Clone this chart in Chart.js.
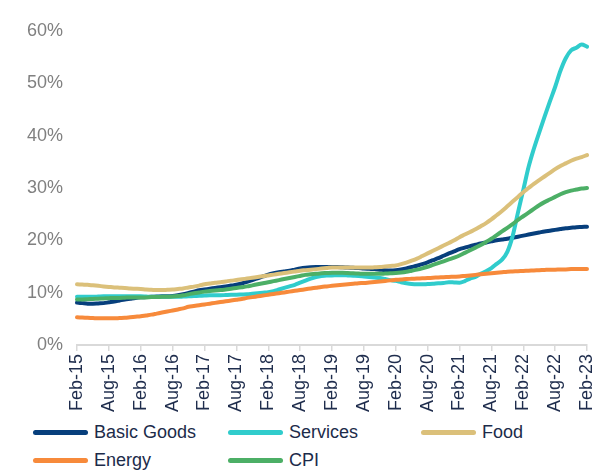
<!DOCTYPE html>
<html>
<head>
<meta charset="utf-8">
<script src="https://cdn.jsdelivr.net/npm/chart.js@4"></script>
<style>
  body { margin: 0; background: #fff; }
  #wrap { position: relative; width: 600px; height: 472px; font-family: "Liberation Sans", Arial, sans-serif; }
  #legend .item { position: absolute; height: 22px; display: flex; align-items: center; font-size: 18px; color: #1c2b4a; white-space: nowrap; }
  #legend .swatch { width: 55px; height: 5px; border-radius: 3px; margin-right: 6px; }
</style>
</head>
<body>
<div id="wrap">
  <canvas id="myChart" width="600" height="420"></canvas>
  <div id="legend"></div>
</div>
<script>
var monthNames = ['Jan', 'Feb', 'Mar', 'Apr', 'May', 'Jun', 'Jul', 'Aug', 'Sep', 'Oct', 'Nov', 'Dec'];
var labels = [];
for (var i = 0; i <= 96; i++) {
    labels.push(monthNames[(1 + i) % 12] + '-' + (15 + Math.floor((1 + i) / 12)));
}

// monthly values, Feb-15 .. Feb-23 (%)
var basicGoods = [
    8.1, 8.0, 7.9, 7.9, 7.95, 8.0, 8.15, 8.3, 8.5, 8.7, 8.85, 9.0,
    9.1, 9.15, 9.2, 9.25, 9.3, 9.3, 9.35, 9.5, 9.7, 9.95, 10.2, 10.45,
    10.6, 10.75, 10.9, 11.05, 11.2, 11.35, 11.5, 11.75, 12.05, 12.4, 12.75, 13.1,
    13.45, 13.7, 13.9, 14.05, 14.2, 14.4, 14.6, 14.75, 14.85, 14.9, 14.9, 14.9,
    14.9, 14.9, 14.85, 14.8, 14.75, 14.7, 14.6, 14.55, 14.5, 14.4, 14.3, 14.25,
    14.3, 14.45, 14.65, 14.9, 15.15, 15.45, 15.8, 16.2, 16.6, 17.05, 17.5, 17.9,
    18.3, 18.6, 18.9, 19.15, 19.4, 19.6, 19.8, 20.0, 20.15, 20.3, 20.5, 20.7,
    20.9, 21.1, 21.3, 21.5, 21.7, 21.85, 22.0, 22.15, 22.3, 22.4, 22.5, 22.55,
    22.6
];
var services = [
    9.2, 9.2, 9.2, 9.2, 9.25, 9.3, 9.3, 9.3, 9.3, 9.3, 9.3, 9.3,
    9.3, 9.25, 9.2, 9.2, 9.2, 9.2, 9.2, 9.2, 9.25, 9.3, 9.35, 9.4,
    9.45, 9.5, 9.5, 9.5, 9.55, 9.6, 9.6, 9.65, 9.7, 9.8, 9.9, 10.0,
    10.1, 10.3, 10.6, 10.9, 11.2, 11.5, 11.9, 12.3, 12.7, 13.0, 13.2, 13.3,
    13.3, 13.35, 13.35, 13.3, 13.25, 13.2, 13.1, 13.0, 12.9, 12.8, 12.6, 12.4,
    12.25, 12.0, 11.8, 11.65, 11.6, 11.6, 11.65, 11.7, 11.8, 11.85, 12.0, 11.95,
    11.9, 12.2, 12.7, 13.0, 13.6, 14.1, 14.7, 15.5, 16.3, 17.8, 20.8, 25.3,
    29.6, 34.0, 37.5, 40.6, 43.6, 46.5, 49.3, 52.4, 54.8, 56.3, 56.8, 57.4,
    57.0
];
var food = [
    11.6, 11.55, 11.5, 11.4, 11.3, 11.2, 11.1, 11.0, 10.95, 10.9, 10.8, 10.75,
    10.7, 10.6, 10.55, 10.5, 10.5, 10.55, 10.6, 10.7, 10.8, 11.0, 11.15, 11.35,
    11.6, 11.75, 11.9, 12.0, 12.15, 12.3, 12.4, 12.55, 12.7, 12.85, 13.0, 13.15,
    13.3, 13.45, 13.6, 13.75, 13.9, 14.05, 14.2, 14.3, 14.4, 14.5, 14.6, 14.7,
    14.8, 14.8, 14.8, 14.8, 14.8, 14.8, 14.8, 14.8, 14.85, 14.9, 15.0, 15.1,
    15.2, 15.45, 15.75, 16.1, 16.5, 17.0, 17.5, 18.0, 18.5, 19.0, 19.5, 20.0,
    20.6, 21.1, 21.6, 22.1, 22.7, 23.3, 24.0, 24.8, 25.6, 26.5, 27.4, 28.3,
    29.2, 30.0, 30.8, 31.5, 32.2, 32.9, 33.6, 34.2, 34.7, 35.2, 35.6, 35.9,
    36.3
];
var energy = [
    5.3, 5.25, 5.2, 5.15, 5.1, 5.1, 5.1, 5.1, 5.15, 5.2, 5.3, 5.4,
    5.5, 5.65, 5.8, 6.0, 6.2, 6.4, 6.6, 6.8, 7.0, 7.3, 7.45, 7.6,
    7.75, 7.9, 8.05, 8.2, 8.35, 8.5, 8.65, 8.8, 9.0, 9.15, 9.3, 9.45,
    9.6, 9.75, 9.9, 10.05, 10.2, 10.35, 10.5, 10.65, 10.8, 10.95, 11.1, 11.2,
    11.3, 11.4, 11.5, 11.6, 11.7, 11.8, 11.85, 11.95, 12.05, 12.15, 12.25, 12.35,
    12.45, 12.5, 12.6, 12.65, 12.7, 12.75, 12.8, 12.85, 12.9, 12.95, 13.0, 13.05,
    13.1, 13.2, 13.3, 13.4, 13.5, 13.6, 13.7, 13.8, 13.9, 14.0, 14.05, 14.1,
    14.15, 14.2, 14.25, 14.3, 14.35, 14.4, 14.4, 14.45, 14.45, 14.5, 14.5, 14.5,
    14.5
];
var cpi = [
    8.7, 8.7, 8.75, 8.8, 8.85, 8.9, 8.95, 9.0, 9.0, 9.05, 9.1, 9.1,
    9.1, 9.1, 9.15, 9.15, 9.2, 9.2, 9.25, 9.35, 9.5, 9.7, 9.9, 10.05,
    10.2, 10.3, 10.4, 10.5, 10.6, 10.75, 10.9, 11.05, 11.2, 11.4, 11.6, 11.8,
    12.0, 12.2, 12.4, 12.6, 12.8, 13.0, 13.2, 13.4, 13.5, 13.6, 13.7, 13.75,
    13.8, 13.8, 13.8, 13.75, 13.7, 13.65, 13.6, 13.6, 13.6, 13.6, 13.65, 13.7,
    13.75, 13.85, 14.0, 14.2, 14.4, 14.65, 14.95, 15.3, 15.65, 16.0, 16.35, 16.7,
    17.1, 17.6, 18.1, 18.6, 19.1, 19.7, 20.3, 21.0, 21.7, 22.4, 23.1, 23.9,
    24.6, 25.3, 26.0, 26.7, 27.3, 27.8, 28.3, 28.8, 29.2, 29.5, 29.7, 29.9,
    30.0
];

var datasets = [
    { label: 'Basic Goods', data: basicGoods, borderColor: '#073f7c', order: 4 },
    { label: 'Services', data: services, borderColor: '#30cccc', order: 3 },
    { label: 'Food', data: food, borderColor: '#dbc07a', order: 2 },
    { label: 'Energy', data: energy, borderColor: '#f78a3b', order: 1 },
    { label: 'CPI', data: cpi, borderColor: '#4caf66', order: 0 }
];
datasets.forEach(function (d) {
    d.borderWidth = 4;
    d.pointRadius = 0;
    d.fill = false;
    d.cubicInterpolationMode = 'monotone';
    d.borderCapStyle = 'round';
    d.borderJoinStyle = 'round';
});

var ctx = document.getElementById('myChart').getContext('2d');
var myChart = new Chart(ctx, {
    type: 'line',
    data: { labels: labels, datasets: datasets },
    options: {
        responsive: false,
        animation: false,
        layout: { padding: { top: 31, right: 13, left: 0, bottom: 0 } },
        plugins: { legend: { display: false }, tooltip: { enabled: false } },
        scales: {
            x: {
                afterFit: function (scale) {
                    scale.height = 75;
                    scale.paddingLeft = 0;
                    scale.paddingRight = 0;
                },
                grid: { drawOnChartArea: false, drawTicks: true, tickLength: 6, color: '#d9d9d9', lineWidth: 1.5 },
                border: { display: true, color: '#d9d9d9', width: 2 },
                ticks: {
                    autoSkip: false,
                    minRotation: 90,
                    maxRotation: 90,
                    padding: 3,
                    color: '#1f2d4d',
                    font: { family: 'Liberation Sans', size: 18 },
                    callback: function (v, i) { return i % 6 === 0 ? labels[i] : null; }
                }
            },
            y: {
                min: 0,
                max: 60,
                afterFit: function (scale) { scale.width = 77; },
                grid: { display: false, drawTicks: false },
                border: { display: false },
                ticks: {
                    stepSize: 10,
                    padding: 14,
                    color: '#808080',
                    font: { family: 'Liberation Sans', size: 18 },
                    callback: function (v) { return v + '%'; }
                }
            }
        }
    }
});

// legend in three columns under the chart
var legend = document.getElementById('legend');
var colX = [33, 228, 421];
var rowY = [432, 460];
datasets.forEach(function (d, i) {
    var item = document.createElement('div');
    item.className = 'item';
    item.style.left = colX[i % 3] + 'px';
    item.style.top = (rowY[Math.floor(i / 3)] - 11) + 'px';
    item.innerHTML = '<span class="swatch" style="background:' + d.borderColor + '"></span>' + d.label;
    legend.appendChild(item);
});
</script>
</body>
</html>
